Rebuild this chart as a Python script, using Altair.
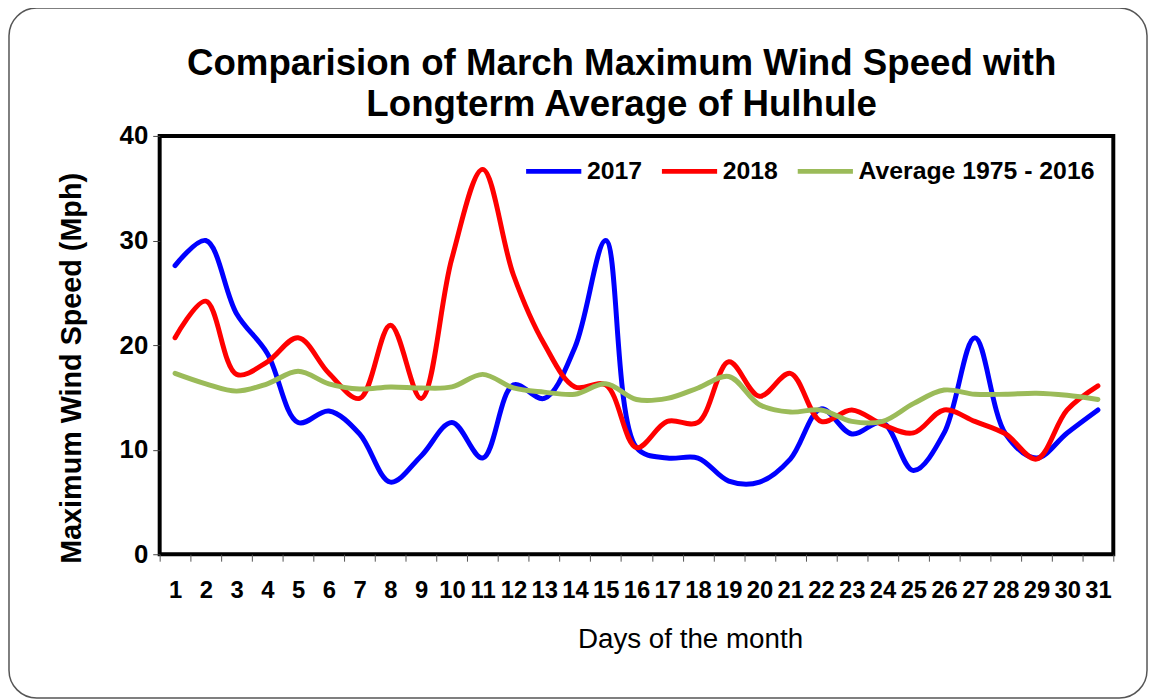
import altair as alt
import pandas as pd

days = [str(d) for d in range(1, 32)]
series_names = ["2017", "2018", "Average 1975 - 2016"]
series_colors = ["#0000FF", "#FF0000", "#9BBB59"]

wind_2017 = [27.6, 30.0, 23.0, 19.2, 12.6, 13.7, 11.5, 6.9, 9.4, 12.6, 9.2,
             16.2, 14.9, 19.8, 30.0, 10.2, 9.2, 9.2, 7.0, 6.9, 9.1, 13.9,
             11.5, 12.6, 8.0, 11.6, 20.7, 11.5, 9.2, 11.6, 13.8]
wind_2018 = [20.7, 24.2, 17.2, 18.4, 20.7, 17.3, 14.9, 21.9, 14.9, 28.3, 36.8,
             26.7, 20.1, 16.0, 16.2, 10.2, 12.7, 12.6, 18.4, 15.1, 17.3, 12.7,
             13.8, 12.4, 11.6, 13.8, 12.7, 11.5, 9.1, 13.8, 16.1]
wind_avg = [17.3, 16.3, 15.6, 16.3, 17.5, 16.3, 15.8, 16.0, 15.9, 16.0, 17.2,
            15.9, 15.5, 15.3, 16.3, 14.8, 14.9, 15.9, 17.0, 14.3, 13.6, 13.8,
            12.7, 12.7, 14.4, 15.7, 15.3, 15.3, 15.4, 15.2, 14.8]

y_ticks = [0, 10, 20, 30, 40]

rows = []
for name, vals in zip(series_names, [wind_2017, wind_2018, wind_avg]):
    for d, v in zip(days, vals):
        rows.append({"day": d, "series": name, "speed": v})
df = pd.DataFrame(rows)

FONT = "Liberation Sans"

frame = alt.Chart(pd.DataFrame({"a": [0]})).mark_rect(
    cornerRadius=28, fillOpacity=0, fill="white", stroke="#555555", strokeWidth=1.5
).encode(
    x=alt.value(-152), x2=alt.value(996), y=alt.value(-129), y2=alt.value(567)
)

lines = alt.Chart(df).mark_line(
    interpolate="catmull-rom", strokeWidth=5, strokeCap="round", strokeJoin="round"
).encode(
    x=alt.X(
        "day:O", sort=days, bandPosition=0.5,
        scale=alt.Scale(type="band", paddingInner=0, paddingOuter=0),
        axis=alt.Axis(
            title="Days of the month", labelAngle=0, tickBand="extent",
            labelFontSize=24, labelFontWeight="bold", labelFont=FONT, labelColor="black",
            labelBaseline="alphabetic", labelPadding=37, labelOverlap=False, labelFlush=False,
            tickColor="#555555", tickSize=7, tickWidth=1, domain=False, grid=False,
            titleFont=FONT, titleFontSize=28, titleFontWeight="normal", titleColor="black",
            titleX=535, titleY=94, titleBaseline="alphabetic", titleAlign="center",
        ),
    ),
    y=alt.Y(
        "speed:Q", scale=alt.Scale(domain=[0, 40], nice=False, zero=True),
        axis=alt.Axis(
            title="Maximum Wind Speed (Mph)", values=y_ticks, grid=False, domain=False,
            labelFontSize=26, labelFontWeight="bold", labelFont=FONT, labelColor="black",
            labelPadding=5, tickColor="#444444", tickSize=7, tickWidth=1,
            titleFont=FONT, titleFontSize=29, titleFontWeight="bold", titleColor="black",
            titleX=-89, titleY=234, titleAngle=270, titleAlign="center", titleBaseline="middle",
        ),
    ),
    color=alt.Color(
        "series:N", sort=series_names,
        scale=alt.Scale(domain=series_names, range=series_colors),
        legend=alt.Legend(
            title=None, orient="none", legendX=367, legendY=5, direction="horizontal",
            symbolType="stroke", symbolSize=3100, symbolStrokeWidth=5,
            labelFont=FONT, labelFontSize=25, labelFontWeight="bold", labelColor="black",
            labelOffset=3, columnPadding=9, padding=0, labelLimit=0,
        ),
    ),
)

chart = alt.layer(frame, lines).properties(
    width=962, height=422,
    padding={"left": 0, "top": -4, "right": 0, "bottom": 0},
    title=alt.TitleParams(
        ["Comparision of March Maximum Wind Speed with", "Longterm Average of Hulhule"],
        font=FONT, fontSize=37, fontWeight="bold", color="black", frame="group",
        anchor="middle", dx=-15, offset=-147, lineHeight=42, baseline="alphabetic",
    ),
).configure_view(stroke="black", strokeWidth=4)

chart.save("out.html", embed_options={"renderer": "svg", "actions": False})
